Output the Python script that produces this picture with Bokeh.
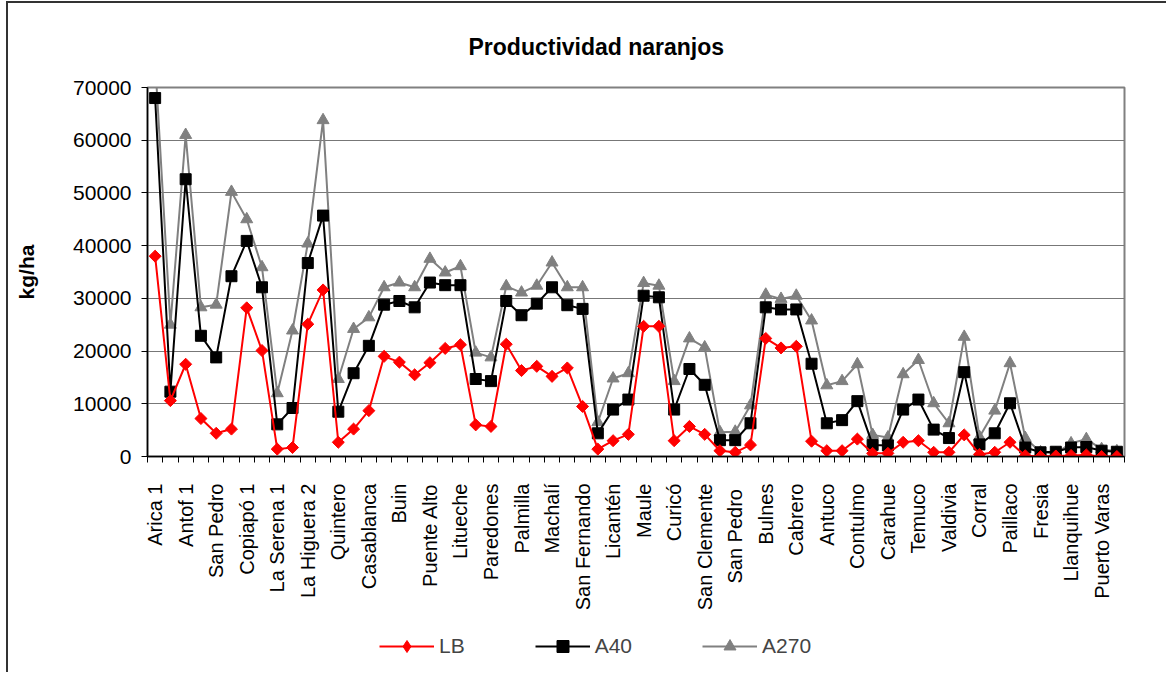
import math
from bokeh.plotting import figure
from bokeh.layouts import column
from bokeh.models import Range1d, FixedTicker, NumeralTickFormatter, Legend, LegendItem, ColumnDataSource
from bokeh.embed import file_html
from bokeh.resources import INLINE

categories = [
    "Arica 1", "Arica 2", "Antof 1", "Antof 2", "San Pedro", "Vallenar",
    "Copiapó 1", "Copiapó 2", "La Serena 1", "La Higuera 1", "La Higuera 2", "Ovalle",
    "Quintero", "Los Andes", "Casablanca", "Melipilla", "Buin", "Pirque",
    "Puente Alto", "Talagante", "Litueche", "Pichilemu", "Paredones", "Chimbarongo",
    "Palmilla", "Rancagua", "Machalí", "Rengo", "San Fernando", "Hualañé",
    "Licantén", "Molina", "Maule", "Talca", "Curicó", "Linares",
    "San Clemente", "Cauquenes", "San Pedro ", "Chillán", "Bulnes", "Yumbel",
    "Cabrero", "Los Ángeles", "Antuco", "Cañete", "Contulmo", "Angol",
    "Carahue", "Villarrica", "Temuco", "Lanco", "Valdivia", "Máfil",
    "Corral", "La Unión", "Paillaco", "Osorno", "Fresia", "Frutillar",
    "Llanquihue", "Puerto Octay", "Puerto Varas", "Puerto Montt",
]

lb = [38000, 10600, 17500, 7200, 4400, 5200, 28200, 20100, 1400, 1700,
      25100, 31600, 2700, 5200, 8700, 19000, 17900, 15500, 17800, 20500,
      21200, 6000, 5700, 21300, 16300, 17100, 15200, 16800, 9500, 1400,
      3000, 4200, 24700, 24700, 3000, 5700, 4200, 1100, 800, 2200,
      22400, 20600, 20900, 2900, 1100, 1100, 3300, 600, 600, 2700,
      3000, 800, 800, 4100, 400, 800, 2700, 150, 0, 100,
      200, 300, 0, 0]

a40 = [68000, 12300, 52600, 22900, 18800, 34200, 40900, 32100, 6100, 9200,
       36700, 45700, 8500, 15800, 21000, 28800, 29500, 28300, 33000, 32500,
       32500, 14700, 14300, 29500, 26800, 29000, 32100, 28700, 28000, 4400,
       8900, 10800, 30500, 30200, 8900, 16600, 13600, 3100, 3100, 6300,
       28300, 27900, 27900, 17600, 6300, 6900, 10500, 2200, 2100, 8900,
       10800, 5100, 3500, 16000, 2300, 4400, 10100, 1700, 800, 900,
       1700, 1800, 1100, 900]

a270 = [75000, 25000, 61000, 28300, 28800, 50200, 45000, 35900, 12000, 23900,
        40400, 63800, 14700, 24200, 26400, 32100, 33000, 32100, 37500, 34900,
        36100, 19700, 18800, 32300, 31100, 32400, 36800, 32100, 32100, 6500,
        14800, 15800, 32900, 32400, 14300, 22400, 20700, 4600, 4700, 9700,
        30700, 29900, 30500, 25800, 13500, 14300, 17500, 4100, 3600, 15600,
        18300, 10100, 6300, 22700, 3700, 8700, 17700, 3500, 800, 600,
        2500, 3300, 1400, 1000]

series_names = ["LB", "A40", "A270"]
y_ticks = [0, 10000, 20000, 30000, 40000, 50000, 60000, 70000]

FONT = "Liberation Sans"
n = len(categories)
xs = list(range(n))

W = 1158
p = figure(width=W, height=617, output_backend="svg", toolbar_location=None,
           x_range=Range1d(-0.5, n - 0.5), y_range=Range1d(0, 70000),
           min_border_left=139, min_border_right=42, min_border_top=78, min_border_bottom=164,
           title="Productividad naranjos")

p.title.text_font = FONT
p.title.text_font_size = "23px"
p.title.text_font_style = "bold"
p.title.text_color = "black"
p.title.align = "left"
p.title.offset = 321
p.title.standoff = 56

p.outline_line_color = "#808080"
p.outline_line_width = 2
p.background_fill_color = "white"
p.border_fill_color = "white"

# x axis
p.xaxis.ticker = FixedTicker(ticks=xs[::2], minor_ticks=[i - 0.5 for i in range(n + 1)])
p.xaxis.major_label_overrides = {i: categories[i] for i in xs[::2]}
p.xaxis.major_label_orientation = math.pi / 2
p.xaxis.major_tick_out = 0
p.xaxis.major_tick_in = 0
p.xaxis.minor_tick_out = 6
p.xaxis.minor_tick_in = 0
p.xaxis.minor_tick_line_color = "black"
p.xaxis.major_label_standoff = 21
p.xaxis.major_label_text_font = FONT
p.xaxis.major_label_text_font_size = "20px"
p.xaxis.major_label_text_color = "black"
p.xaxis.axis_line_color = "black"
p.xaxis.axis_line_width = 1.5

# y axis
p.yaxis.ticker = FixedTicker(ticks=y_ticks)
p.yaxis.formatter = NumeralTickFormatter(format="0")
p.yaxis.major_tick_out = 6
p.yaxis.major_tick_in = 0
p.yaxis.minor_tick_line_color = None
p.yaxis.major_label_standoff = 10
p.yaxis.major_label_text_font = FONT
p.yaxis.major_label_text_font_size = "21px"
p.yaxis.major_label_text_color = "black"
p.yaxis.axis_line_color = "black"
p.yaxis.axis_line_width = 1.5
p.yaxis.axis_label = "kg/ha"
p.yaxis.axis_label_text_font = FONT
p.yaxis.axis_label_text_font_size = "21px"
p.yaxis.axis_label_text_font_style = "bold"
p.yaxis.axis_label_text_color = "black"
p.yaxis.axis_label_standoff = 32

p.xgrid.grid_line_color = None
p.ygrid.grid_line_color = "#777777"
p.ygrid.grid_line_width = 1.2

src = ColumnDataSource(dict(x=xs, lb=lb, a40=a40, a270=a270))

LB_STYLE = dict(color="#FF0000", marker="square", angle=math.pi / 4, size=8.5, leg_marker="diamond")
A40_STYLE = dict(color="black", marker="square", angle=0.0, size=11, leg_marker="square")
A270_STYLE = dict(color="#808080", marker="triangle", angle=0.0, size=12, leg_marker="triangle")

for col, st in (("a270", A270_STYLE), ("a40", A40_STYLE), ("lb", LB_STYLE)):
    p.line("x", col, source=src, line_color=st["color"], line_width=2)
    p.scatter("x", col, source=src, marker=st["marker"], angle=st["angle"], size=st["size"],
              fill_color=st["color"], line_color=st["color"])

# legend strip below the chart
lf = figure(width=W, height=52, output_backend="svg", toolbar_location=None,
            x_range=Range1d(0, 1), y_range=Range1d(0, 1),
            x_axis_type=None, y_axis_type=None,
            min_border_left=0, min_border_right=0, min_border_top=0, min_border_bottom=0)
lf.outline_line_color = None
lf.xgrid.grid_line_color = None
lf.ygrid.grid_line_color = None
lf.border_fill_color = "white"

items = []
for name, st in zip(series_names, (LB_STYLE, A40_STYLE, A270_STYLE)):
    dsrc = ColumnDataSource(dict(x=[-5.0], y=[-5.0]))
    r_l = lf.line("x", "y", source=dsrc, line_color=st["color"], line_width=2)
    r_m = lf.scatter("x", "y", source=dsrc, marker=st["leg_marker"],
                     size=st["size"], fill_color=st["color"], line_color=st["color"])
    items.append(LegendItem(label=name, renderers=[r_l, r_m]))

legend = Legend(items=items, orientation="horizontal", location=(232, 11), padding=0, margin=0,
                spacing=70, glyph_width=55, glyph_height=30, label_height=30, label_standoff=5,
                label_text_font=FONT, label_text_font_size="21px", border_line_color=None,
                background_fill_alpha=0)
lf.add_layout(legend, "center")

layout = column(p, lf, spacing=0,
                styles={"margin-left": "6px", "margin-top": "1px",
                        "border-left": "2px solid #333333", "border-top": "2px solid #333333"})

open("out.html", "w").write(file_html(layout, INLINE))
